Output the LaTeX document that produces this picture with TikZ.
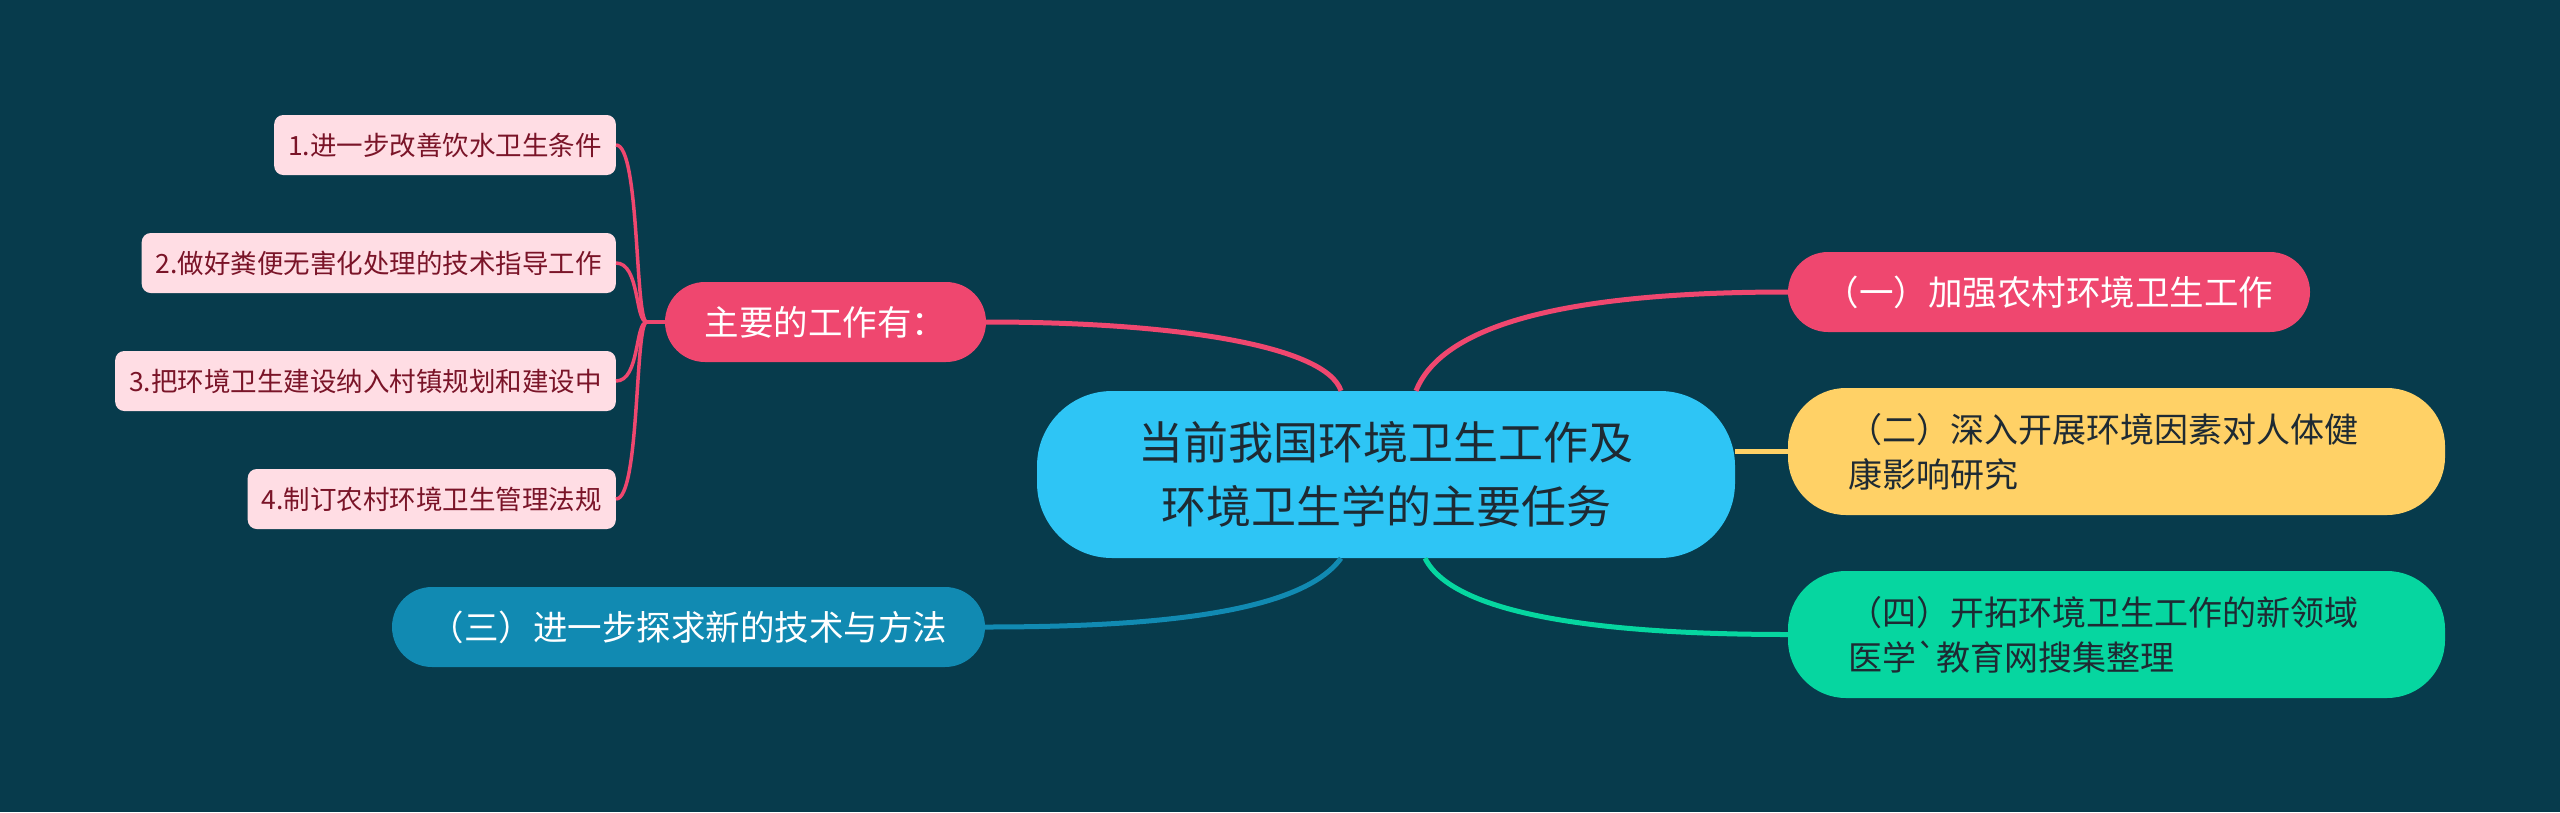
\documentclass[tikz,border=0pt]{standalone}
\usepackage{fontspec}
\setmainfont{Noto Sans CJK SC}[Ligatures=TeXOff]
\definecolor{bg}{HTML}{073B4C}
\definecolor{mpink}{HTML}{EF476F}
\definecolor{myellow}{HTML}{FFD166}
\definecolor{mgreen}{HTML}{06D6A0}
\definecolor{mblue}{HTML}{118AB2}
\definecolor{mcyan}{HTML}{2EC5F5}
\definecolor{leaffill}{HTML}{FFDDE4}
\definecolor{leaftext}{HTML}{7A1428}
\definecolor{darktext}{HTML}{1E2A33}
\begin{document}
\begin{tikzpicture}[x=1pt,y=-1pt,
  centerbox/.style={fill=mcyan, rounded corners=75pt, minimum width=698pt, minimum height=167pt, align=center, text=darktext, font=\fontsize{45}{64}\selectfont, inner sep=0pt},
  pillbox/.style={rounded corners=40pt, minimum height=80pt, inner sep=0pt, font=\fontsize{34.5}{44}\selectfont},
  bigbox/.style={rounded corners=58pt, minimum height=127pt, text width=537pt, inner xsep=60pt, inner ysep=0pt, align=left, text=darktext, font=\fontsize{34}{45}\selectfont},
  leafbox/.style={fill=leaffill, text=leaftext, rounded corners=9pt, minimum height=60pt, inner xsep=14pt, inner ysep=0pt, anchor=east, font=\fontsize{26.5}{32}\selectfont},
  mainline/.style={line width=5pt},
  leafline/.style={line width=3.5pt, mpink}
]
\fill[bg] (0,0) rectangle (2560,812);
\useasboundingbox (0,0) rectangle (2560,812);

\node[centerbox] (c) at (1386,474.5) {当前我国环境卫生工作及\\环境卫生学的主要任务};
\node[pillbox, fill=mpink, text=white, minimum width=522pt] (n1) at (2049,292) {（一）加强农村环境卫生工作};
\node[bigbox, fill=myellow] (n2) at (2116.5,451.5) {（二）深入开展环境因素对人体健\\康影响研究};
\node[bigbox, fill=mgreen] (n4) at (2116.5,634.5) {（四）开拓环境卫生工作的新领域\\医学`教育网搜集整理};
\node[pillbox, fill=mblue, text=white, minimum width=593pt] (n3) at (688.5,627) {（三）进一步探求新的技术与方法};
\node[pillbox, fill=mpink, text=white, minimum width=321pt] (m) at (825.5,322) {主要的工作有：};

\node[leafbox] (l1) at (616,145) {1.进一步改善饮水卫生条件};
\node[leafbox] (l2) at (616,263) {2.做好粪便无害化处理的技术指导工作};
\node[leafbox] (l3) at (616,381) {3.把环境卫生建设纳入村镇规划和建设中};
\node[leafbox] (l4) at (616,499) {4.制订农村环境卫生管理法规};

\coordinate (j) at ([xshift=-18pt]m.west);

\draw[mainline, mpink] (m.east) .. controls +(190,0) and +(-15,-45) .. ([xshift=-45pt]c.north);
\draw[mainline, mpink] ([xshift=30pt]c.north) .. controls +(30,-75) and +(-190,0) .. (n1.west);
\draw[mainline, myellow] (c.east |- n2.west) -- (n2.west);
\draw[mainline, mgreen] ([xshift=39pt]c.south) .. controls +(30,60) and +(-170,0) .. (n4.west);
\draw[mainline, mblue] ([xshift=-45pt]c.south) .. controls +(-40,55) and +(170,0) .. (n3.east);

\foreach \l in {l1,l2,l3,l4}{
  \draw[leafline] (m.west) -- (j) .. controls +(-12,0) and +(24,0) .. (\l.east);
}
\end{tikzpicture}
\end{document}
